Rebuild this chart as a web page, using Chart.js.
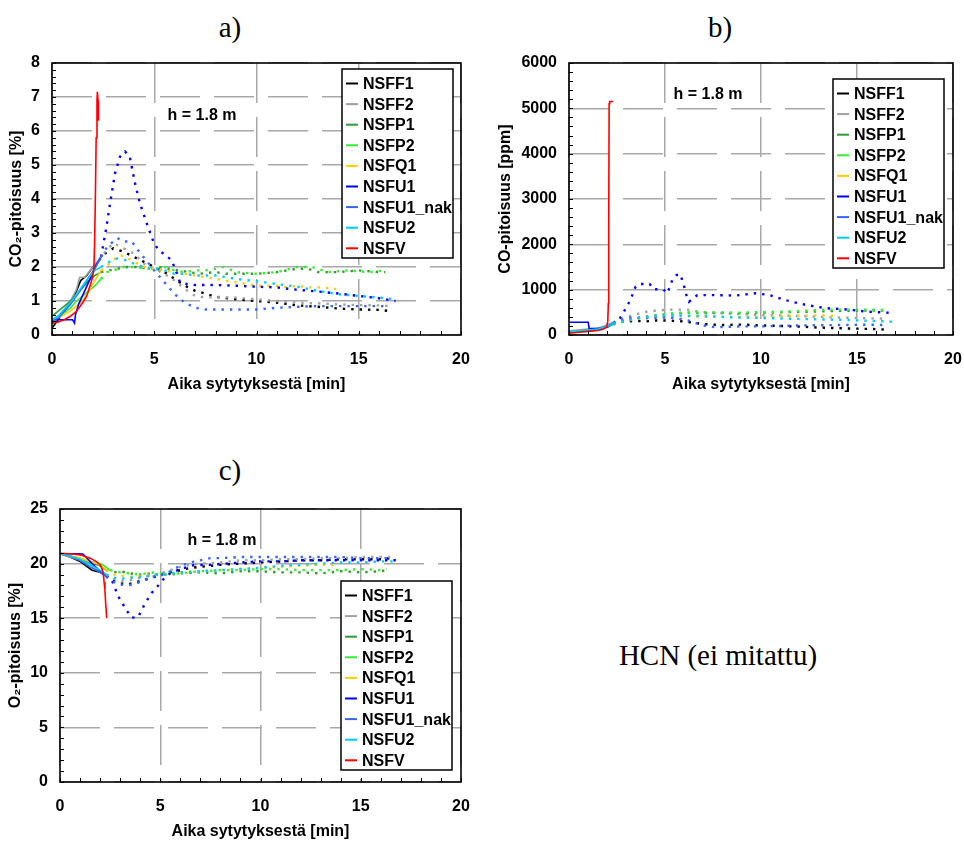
<!DOCTYPE html>
<html>
<head>
<meta charset="utf-8">
<script src="https://cdn.jsdelivr.net/npm/chart.js@4.4.1/dist/chart.umd.min.js"></script>
<style>
  html, body { margin: 0; padding: 0; background: #fff; }
  body { position: relative; width: 964px; height: 842px; overflow: hidden; }
  canvas { position: absolute; }
  .cap {
    position: absolute; transform: translate(-50%, -50%); white-space: nowrap;
    font-family: "Times New Roman", "Liberation Serif", serif; font-size: 29px; color: #000;
  }
</style>
</head>
<body>
<div class="cap" style="left:230px;top:27px">a)</div>
<div class="cap" style="left:720px;top:27px">b)</div>
<div class="cap" style="left:230px;top:470px">c)</div>
<div class="cap" style="left:718px;top:655px">HCN (ei mitattu)</div>
<canvas id="chartA" width="475" height="345" style="left:0;top:50px"></canvas>
<canvas id="chartB" width="474" height="345" style="left:490px;top:50px"></canvas>
<canvas id="chartC" width="475" height="347" style="left:0;top:495px"></canvas>
<script>
// series names + colours (same order in all three panels)
const SERIES = ['NSFF1', 'NSFF2', 'NSFP1', 'NSFP2', 'NSFQ1', 'NSFU1', 'NSFU1_nak', 'NSFU2', 'NSFV'];
const COLORS = ['#000000', '#a0a0a0', '#339933', '#33ee33', '#ffcc00', '#0000ff', '#3366ff', '#00ccff', '#ff0000'];

const X_TITLE = 'Aika sytytyksestä [min]';
const X_TICKS = [0, 5, 10, 15, 20];
const NOTE = 'h = 1.8 m';

// ── a) CO2 [%]  — [time min, value] ──
const co2_NSFF1 = [[0,0.2],[0.3,0.45],[0.6,0.7],[0.9,0.95],[1.2,1.3],[1.4,1.6],[1.7,1.75],[2.0,2.0],[2.3,2.2],[2.6,2.4],[3.0,2.55],[3.5,2.45],[4.0,2.3],[4.5,2.15],[5.0,2.0],[5.5,1.85],[6.0,1.65],[6.5,1.45],[7.0,1.3],[7.5,1.22],[8.0,1.12],[9.0,1.05],[10,1.0],[11,0.95],[12,0.87],[13,0.83],[14,0.78],[15,0.75],[16,0.74],[16.6,0.7]];
const co2_NSFF2 = [[0,0.45],[0.3,0.55],[0.6,0.75],[0.9,1.0],[1.2,1.35],[1.35,1.7],[1.6,1.7],[2.0,2.0],[2.3,2.2],[2.6,2.45],[3.0,2.7],[3.5,2.55],[4.0,2.4],[4.5,2.1],[5.0,1.95],[5.5,1.8],[6.0,1.6],[6.5,1.35],[7.0,1.15],[7.5,1.1],[8.0,1.12],[9,1.1],[10,1.05],[11,1.0],[12,0.95],[13,0.93],[14,0.9],[15,0.88],[16,0.87],[16.5,0.85]];
const co2_NSFP1 = [[0,0.55],[0.3,0.7],[0.6,0.85],[0.9,1.0],[1.2,1.2],[1.5,1.4],[1.8,1.6],[2.1,1.75],[2.4,1.85],[2.8,1.9],[3.2,1.95],[3.7,2.0],[4.2,2.0],[4.7,1.95],[5.2,2.0],[5.7,1.95],[6.2,1.9],[6.7,1.85],[7.2,1.8],[8,1.85],[8.5,1.8],[9,1.8],[10,1.8],[11,1.85],[12,1.95],[12.5,1.95],[13,1.85],[14,1.85],[15,1.9],[16,1.85],[16.3,1.85]];
const co2_NSFP2 = [[0,0.45],[0.3,0.55],[0.6,0.65],[0.9,0.8],[1.2,1.0],[1.5,1.15],[1.8,1.3],[2.1,1.45],[2.4,1.65],[2.7,1.85],[3.0,1.9],[3.5,2.0],[4.0,2.0],[4.5,1.95],[5.0,1.95],[5.5,2.0],[6,1.9],[6.5,1.85],[7,1.9],[7.5,1.9],[8,1.95],[8.4,2.0],[9,1.85],[10,1.8],[11,1.85],[12,2.0],[12.7,2.0],[13.5,1.85],[14.5,1.9],[15.5,1.85],[16.3,1.9]];
const co2_NSFQ1 = [[0,0.45],[0.3,0.5],[0.6,0.6],[0.9,0.7],[1.2,0.85],[1.5,1.0],[1.8,1.3],[2.1,1.6],[2.4,1.9],[2.7,2.05],[3.0,2.2],[3.3,2.35],[3.6,2.3],[4.0,2.15],[4.5,2.0],[5.0,1.95],[5.5,1.9],[6.0,1.85],[6.5,1.8],[7,1.75],[7.5,1.7],[8,1.65],[8.5,1.6],[9,1.55],[9.5,1.5],[10,1.45],[11,1.45],[11.5,1.4],[12,1.45],[12.5,1.4],[13,1.4],[13.5,1.38],[13.9,1.35]];
const co2_NSFU1 = [[0,0.45],[0.5,0.45],[1.0,0.45],[1.05,0.4],[1.1,0.35],[1.15,0.6],[1.3,0.9],[1.6,1.3],[1.9,1.7],[2.1,2.0],[2.4,2.3],[2.64,3.1],[2.92,4.17],[3.08,4.75],[3.33,5.25],[3.57,5.4],[3.8,5.25],[4.06,4.46],[4.3,3.87],[4.63,3.29],[4.96,2.74],[5.2,2.5],[5.44,2.4],[5.85,2.2],[6.05,1.9],[6.26,1.55],[6.6,1.5],[7,1.47],[8,1.47],[9,1.45],[10,1.42],[11,1.4],[12,1.33],[13,1.28],[14,1.22],[15,1.15],[16,1.08],[16.8,1.0]];
const co2_NSFU1_nak = [[0,0.4],[0.3,0.5],[0.6,0.7],[0.9,0.9],[1.2,1.15],[1.5,1.4],[1.8,1.7],[2.1,1.95],[2.4,2.3],[2.7,2.6],[3.0,2.75],[3.2,2.85],[3.5,2.75],[3.9,2.75],[4.2,2.5],[4.6,2.2],[5.0,1.9],[5.5,1.55],[6.0,1.2],[6.5,0.95],[7,0.8],[7.5,0.75],[8,0.75],[9,0.75],[10,0.75],[11,0.8],[12,0.83],[13,0.85],[14,0.85],[15,0.85],[16,0.85],[16.5,0.85]];
const co2_NSFU2 = [[0,0.45],[0.3,0.55],[0.6,0.75],[0.9,0.95],[1.2,1.2],[1.5,1.45],[1.8,1.7],[2.1,1.9],[2.4,2.0],[2.8,2.15],[3.2,2.25],[3.6,2.2],[4.0,2.1],[4.5,2.0],[5.0,1.95],[5.5,1.9],[6.0,1.8],[6.5,1.8],[7,1.75],[8,1.75],[9,1.65],[10,1.58],[11,1.5],[12,1.42],[13,1.3],[14,1.2],[15,1.15],[16,1.1],[16.8,1.05]];
const co2_NSFV = [[0,0.35],[0.3,0.38],[0.6,0.45],[0.9,0.55],[1.2,0.7],[1.5,0.95],[1.7,1.15],[1.87,1.47],[1.99,1.71],[2.05,2.0],[2.08,2.6],[2.12,4.0],[2.16,5.8],[2.2,6.9],[2.22,7.15],[2.25,6.9],[2.27,6.3]];
const CO2 = [co2_NSFF1, co2_NSFF2, co2_NSFP1, co2_NSFP2, co2_NSFQ1, co2_NSFU1, co2_NSFU1_nak, co2_NSFU2, co2_NSFV];
const CO2_TICKS = [0, 1, 2, 3, 4, 5, 6, 7, 8];

// ── b) CO [ppm] ──
const co_NSFF1 = [[0,80],[0.5,100],[1.0,120],[1.5,140],[2.0,200],[2.3,260],[2.6,290],[3,300],[3.5,310],[4,300],[4.5,320],[5,320],[5.5,310],[6,300],[6.5,270],[7,240],[7.5,230],[8,220],[9,230],[10,210],[11,200],[12,185],[13,165],[14,150],[15,140],[16,130],[16.4,120]];
const co_NSFF2 = [[0,90],[0.5,110],[1.0,130],[1.5,150],[2.0,220],[2.3,280],[2.7,350],[3.2,420],[3.7,480],[4.2,530],[4.7,540],[5.2,560],[5.7,560],[6.2,560],[6.7,520],[7.2,500],[8,480],[9,460],[10,440],[11,430],[12,420],[13,400],[14,385],[15,375],[16,365],[16.5,360]];
const co_NSFP1 = [[0,70],[0.5,90],[1.0,110],[1.5,130],[2,190],[2.3,250],[2.7,300],[3.2,340],[3.7,380],[4.2,420],[4.7,440],[5.2,460],[5.7,480],[6.2,490],[7,480],[8,490],[9,480],[10,490],[11,500],[12,510],[13,520],[14,530],[15,540],[16,540],[16.5,540]];
const co_NSFP2 = [[0,60],[0.5,80],[1,100],[1.5,120],[2,180],[2.3,230],[2.7,280],[3.2,330],[3.7,370],[4.2,410],[4.7,440],[5.2,470],[5.7,490],[6.5,500],[7.5,500],[8.5,490],[9.5,500],[10.5,510],[11.5,520],[12.5,540],[13.5,560],[14.5,560],[15.5,560],[16.5,550]];
const co_NSFQ1 = [[0,70],[0.5,80],[1,100],[1.5,120],[2,180],[2.3,240],[2.7,300],[3.2,340],[3.7,370],[4.2,390],[4.7,420],[5.2,420],[5.7,420],[6.5,410],[7.5,400],[8.5,400],[9.5,400],[10.5,400],[11.5,420],[12.5,430],[13.5,430],[13.9,420]];
const co_NSFU1 = [[0,280],[0.5,280],[1.0,280],[1.05,145],[1.5,145],[2.0,170],[2.3,250],[2.6,330],[2.86,515],[3.1,700],[3.3,880],[3.47,1066],[3.7,1126],[4.2,1126],[4.4,1008],[4.9,1008],[5.12,920],[5.38,1210],[5.6,1324],[5.8,1340],[6.0,1066],[6.08,920],[6.25,735],[6.68,880],[7.47,880],[8.68,870],[9.72,920],[10.46,880],[11.25,770],[12.38,660],[13.42,590],[14.29,570],[15.5,515],[16.72,490]];
const co_NSFU1_nak = [[0,60],[0.5,80],[1,100],[1.5,130],[2,200],[2.3,260],[2.7,320],[3.2,380],[3.7,380],[4.2,370],[4.7,380],[5.2,390],[5.7,360],[6.2,320],[6.7,250],[7.2,190],[7.7,170],[8.2,180],[9,190],[10,190],[11,200],[12,210],[13,215],[14,220],[15,225],[16,225],[16.5,220]];
const co_NSFU2 = [[0,70],[0.5,90],[1,110],[1.5,130],[2,190],[2.3,250],[2.7,300],[3.2,340],[3.7,380],[4.2,400],[4.7,420],[5.2,430],[5.7,430],[6.5,420],[7.5,410],[8.5,390],[9.5,380],[10.5,370],[11.5,360],[12.5,350],[13.5,340],[14.5,330],[15.5,315],[16.5,300],[17,290]];
const co_NSFV = [[0,40],[0.5,60],[1.0,80],[1.5,100],[1.8,130],[1.95,170],[2.02,300],[2.05,700],[2.07,2500],[2.09,5100],[2.12,5150],[2.3,5150]];
const CO = [co_NSFF1, co_NSFF2, co_NSFP1, co_NSFP2, co_NSFQ1, co_NSFU1, co_NSFU1_nak, co_NSFU2, co_NSFV];
const CO_TICKS = [0, 1000, 2000, 3000, 4000, 5000, 6000];

// ── c) O2 [%] ──
const o2_NSFF1 = [[0,20.9],[0.5,20.6],[1.0,20.2],[1.3,19.8],[1.6,19.4],[2.0,19.2],[2.3,18.9],[2.7,18.4],[3.0,18.2],[3.4,18.1],[3.8,18.3],[4.2,18.5],[4.6,18.7],[5,19.0],[5.5,19.2],[6,19.4],[6.5,19.6],[7,19.7],[8,19.9],[9,20.0],[10,20.1],[11,20.2],[12,20.3],[13,20.3],[14,20.4],[15,20.4],[16,20.4],[16.5,20.5]];
const o2_NSFF2 = [[0,20.9],[0.5,20.6],[1.0,20.3],[1.5,19.7],[2.0,19.3],[2.3,19.0],[2.7,18.6],[3.0,18.4],[3.5,18.5],[4,18.7],[4.5,18.9],[5,19.1],[5.5,19.4],[6,19.7],[6.5,19.9],[7,20.0],[8,20.1],[9,20.3],[10,20.3],[11,20.4],[12,20.4],[13,20.5],[14,20.5],[15,20.6],[16,20.6],[16.5,20.6]];
const o2_NSFP1 = [[0,20.9],[0.5,20.7],[1.0,20.4],[1.5,20.1],[2.0,19.8],[2.3,19.4],[2.7,19.2],[3,19.3],[3.5,19.1],[4,19.0],[4.5,19.1],[5,19.0],[5.5,19.0],[6,19.1],[7,19.2],[8,19.1],[9,19.3],[10,19.3],[11,19.2],[12,19.2],[13,19.1],[14,19.3],[15,19.2],[16,19.3],[16.3,19.4]];
const o2_NSFP2 = [[0,20.9],[0.5,20.7],[1.0,20.5],[1.5,20.2],[2.0,20.0],[2.2,19.8],[2.5,19.4],[3,19.2],[3.5,19.1],[4,19.0],[4.5,19.2],[5,19.1],[6,19.1],[7,19.3],[8,19.4],[9,19.4],[10,19.5],[11,19.5],[12,19.4],[13,19.4],[14,19.4],[15,19.5],[16,19.4],[16.3,19.5]];
const o2_NSFQ1 = [[0,20.9],[0.5,20.7],[1.0,20.5],[1.5,20.2],[2.0,19.9],[2.3,19.4],[2.7,19.0],[3.0,18.9],[3.5,18.8],[4,18.9],[4.5,19.0],[5,19.0],[5.5,19.1],[6,19.2],[7,19.3],[8,19.4],[9,19.5],[10,19.6],[11,19.7],[12,19.8],[13,19.9],[13.8,19.9]];
const o2_NSFU1 = [[0,20.9],[0.5,20.9],[1.0,20.9],[1.15,20.85],[1.4,20.4],[1.66,19.9],[2.0,19.3],[2.3,18.9],[2.58,18.5],[2.91,17.0],[3.0,16.7],[3.33,15.7],[3.57,15.05],[3.9,15.1],[4.24,16.35],[4.57,17.3],[4.9,18.0],[5.15,18.55],[5.49,19.1],[6.0,19.5],[6.65,19.85],[7.5,19.9],[8.3,20.0],[9,20.1],[10,20.2],[11,20.2],[12,20.3],[13,20.3],[14,20.3],[15,20.3],[16,20.3],[16.8,20.3]];
const o2_NSFU1_nak = [[0,20.9],[0.5,20.7],[1.0,20.3],[1.5,19.7],[2.0,19.2],[2.3,18.8],[2.7,18.3],[3.0,18.1],[3.3,18.0],[3.7,18.1],[4.2,18.5],[4.6,18.8],[5,18.9],[5.5,19.3],[6,19.8],[6.5,20.1],[7,20.3],[7.5,20.5],[8,20.5],[9,20.6],[10,20.6],[11,20.6],[12,20.6],[13,20.6],[14,20.6],[15,20.5],[16,20.5],[16.5,20.5]];
const o2_NSFU2 = [[0,20.9],[0.5,20.7],[1.0,20.4],[1.5,19.9],[2.0,19.4],[2.3,19.0],[2.7,18.7],[3.0,18.6],[3.5,18.7],[4,18.8],[4.5,18.9],[5,19.0],[5.5,19.1],[6,19.2],[7,19.3],[8,19.4],[9,19.5],[10,19.6],[11,19.8],[12,19.9],[13,20.0],[14,20.1],[15,20.1],[16,20.2],[16.8,20.2]];
const o2_NSFV = [[0,20.95],[0.5,20.9],[1.0,20.8],[1.5,20.5],[1.8,20.2],[2.0,19.9],[2.1,19.5],[2.16,19.1],[2.2,18.3],[2.24,17.6],[2.28,16.3],[2.33,15.0]];
const O2 = [o2_NSFF1, o2_NSFF2, o2_NSFP1, o2_NSFP2, o2_NSFQ1, o2_NSFU1, o2_NSFU1_nak, o2_NSFU2, o2_NSFV];
const O2_TICKS = [0, 5, 10, 15, 20, 25];

// ─────────────────────────────────────────────────────────────
const SANS = 'Arial, "Liberation Sans", sans-serif';
const SOLID_UNTIL = 2.3;      // measured lines switch to dotted after this
const GRID = '#a8a8a8';

function makeDatasets(seriesData) {
  return seriesData.map((pts, i) => {
    const dotted = SERIES[i] !== 'NSFV';
    return {
      label: SERIES[i],
      data: pts.map(p => ({ x: p[0], y: p[1] })),
      borderColor: COLORS[i],
      backgroundColor: COLORS[i],
      borderWidth: 1.6,
      pointRadius: 0,
      tension: 0,
      order: SERIES.length - i,   // later series on top, like the original
      segment: dotted ? {
        borderDash: ctx => (ctx.p0.parsed.x >= SOLID_UNTIL ? [2.4, 6] : undefined),
        borderWidth: ctx => (ctx.p0.parsed.x >= SOLID_UNTIL ? 2.4 : undefined),
      } : undefined,
    };
  });
}

// frame, inward minor ticks, "h = 1.8 m" note and the boxed legend
const decoPlugin = {
  id: 'deco',
  afterDatasetsDraw(chart, args, opts) {
    const { ctx, chartArea: a, scales: { x, y } } = chart;
    ctx.save();
    ctx.strokeStyle = '#000';
    ctx.lineWidth = 1;
    ctx.beginPath();
    for (let v = x.min; v <= x.max + 1e-9; v += opts.xMinor) {
      const px = Math.round(x.getPixelForValue(v)) + 0.5;
      ctx.moveTo(px, a.bottom); ctx.lineTo(px, a.bottom - 4);
    }
    for (let v = y.min; v <= y.max + 1e-9; v += opts.yMinor) {
      const py = Math.round(y.getPixelForValue(v)) + 0.5;
      ctx.moveTo(a.left, py); ctx.lineTo(a.left + 4, py);
    }
    ctx.stroke();
    ctx.lineWidth = 1.6;
    ctx.strokeRect(a.left, a.top, a.width, a.height);

    ctx.font = 'bold 16px ' + SANS;
    ctx.fillStyle = '#000';
    ctx.textAlign = 'center';
    ctx.textBaseline = 'middle';
    ctx.fillText(NOTE, a.left + opts.noteX, a.top + opts.noteY);
    ctx.restore();
  },
  afterDraw(chart, args, opts) {
    const { ctx, chartArea: a } = chart;
    const w = 111, h = 189;
    const bx = a.right - opts.legRight - w;
    const by = a.top + opts.legTop;
    ctx.save();
    ctx.fillStyle = '#fff';
    ctx.fillRect(bx, by, w, h);
    ctx.strokeStyle = '#000';
    ctx.lineWidth = 1.5;
    ctx.strokeRect(bx, by, w, h);
    ctx.font = 'bold 16px ' + SANS;
    ctx.textAlign = 'left';
    ctx.textBaseline = 'middle';
    chart.data.datasets.forEach((ds, i) => {
      const cy = by + 14.5 + i * 20.6;
      ctx.strokeStyle = ds.borderColor;
      ctx.lineWidth = 2;
      ctx.beginPath(); ctx.moveTo(bx + 4, cy); ctx.lineTo(bx + 16, cy); ctx.stroke();
      ctx.fillStyle = '#000';
      ctx.fillText(ds.label, bx + 21, cy + 1);
    });
    ctx.restore();
  },
};

function makeChart(id, seriesData, yTicks, yTitle, cfg) {
  const tickFont = { family: SANS, size: 16, weight: 'bold' };
  const titleFont = { family: SANS, size: 16, weight: 'bold' };
  // label offset comes from an invisible tick mark, so tick padding does not
  // inflate the layout padding around the plot area
  return new Chart(document.getElementById(id), {
    type: 'line',
    data: { datasets: makeDatasets(seriesData) },
    options: {
      responsive: false, animation: false, devicePixelRatio: 1,
      layout: { padding: { top: cfg.padTop, right: cfg.padRight, left: 0, bottom: 0 } },
      plugins: {
        legend: { display: false },
        tooltip: { enabled: false },
        deco: cfg.deco,
      },
      scales: {
        x: {
          type: 'linear', min: X_TICKS[0], max: X_TICKS[X_TICKS.length - 1],
          afterBuildTicks: s => { s.ticks = X_TICKS.map(v => ({ value: v })); },
          ticks: { font: tickFont, color: '#000', padding: 0, maxRotation: 0, callback: v => String(v) },
          grid: { color: GRID, lineWidth: 1.5, drawTicks: true, tickLength: 15, tickColor: 'rgba(0,0,0,0)' },
          border: { display: false, dash: [40, 14] },
          title: { display: true, text: X_TITLE, font: titleFont, color: '#000', padding: { top: 0, bottom: 1 } },
          afterFit: s => { s.height = 60; },
        },
        y: {
          type: 'linear', min: yTicks[0], max: yTicks[yTicks.length - 1],
          afterBuildTicks: s => { s.ticks = yTicks.map(v => ({ value: v })); },
          ticks: { font: tickFont, color: '#000', padding: 0, callback: v => String(v) },
          grid: { color: GRID, lineWidth: 1.5, drawTicks: true, tickLength: 12, tickColor: 'rgba(0,0,0,0)' },
          border: { display: false, dash: [40, 14] },
          title: { display: true, text: yTitle, font: titleFont, color: '#000', padding: { top: cfg.yTitlePad, bottom: 0 } },
          afterFit: s => { s.width = cfg.yWidth; },
        },
      },
    },
    plugins: [decoPlugin],
  });
}

makeChart('chartA', CO2, CO2_TICKS, 'CO₂-pitoisuus [%]', {
  padTop: 13, padRight: 14, yWidth: 52, yTitlePad: 7.4,
  deco: { xMinor: 1, yMinor: 0.2, noteX: 150, noteY: 53, legRight: 8, legTop: 6 },
});
makeChart('chartB', CO, CO_TICKS, 'CO-pitoisuus [ppm]', {
  padTop: 13, padRight: 11, yWidth: 79, yTitlePad: 6.4,
  deco: { xMinor: 1, yMinor: 200, noteX: 139, noteY: 32, legRight: 9, legTop: 16 },
});
makeChart('chartC', O2, O2_TICKS, 'O₂-pitoisuus [%]', {
  padTop: 14, padRight: 14, yWidth: 60, yTitlePad: 6.4,
  deco: { xMinor: 1, yMinor: 1, noteX: 162, noteY: 32, legRight: 9, legTop: 72 },
});
</script>
</body>
</html>
